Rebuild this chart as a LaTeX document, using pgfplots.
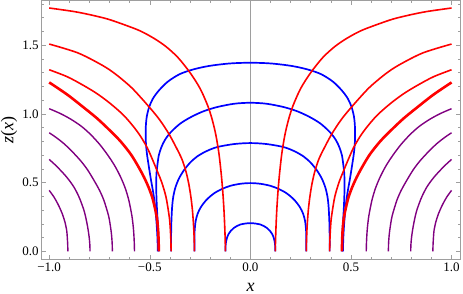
\documentclass[border=0pt]{standalone}
\usepackage{fontspec}
\setmainfont{Liberation Serif}
\usepackage{pgfplots}
\usepackage{pgfplotstable}
\pgfplotsset{compat=1.18}
\definecolor{mpurple}{rgb}{0.5,0,0.5}
\definecolor{framegray}{rgb}{0.62,0.62,0.62}

% red / purple curves: right half (x>0), mirrored for the left half
\pgfplotstableread{
x z
0.124 0
0.125 0.08
0.128 0.20
0.132 0.32
0.138 0.45
0.146 0.58
0.157 0.72
0.172 0.85
0.19 0.96
0.212 1.06
0.25 1.185
0.30 1.30
0.36 1.41
0.42 1.49
0.48 1.55
0.55 1.605
0.63 1.65
0.71 1.69
0.80 1.722
0.88 1.745
1.0 1.77
}\redA
\pgfplotstableread{
x z
0.278 0
0.279 0.08
0.282 0.18
0.288 0.30
0.296 0.40
0.306 0.49
0.32 0.58
0.34 0.67
0.37 0.76
0.405 0.855
0.45 0.955
0.50 1.045
0.59 1.19
0.68 1.30
0.75 1.365
0.86 1.445
1.0 1.508
}\redB
\pgfplotstableread{
x z
0.394 0
0.395 0.07
0.397 0.14
0.401 0.225
0.408 0.30
0.42 0.40
0.44 0.50
0.463 0.585
0.49 0.68
0.513 0.755
0.545 0.835
0.579 0.904
0.63 0.99
0.695 1.074
0.76 1.145
0.827 1.205
0.91 1.27
1.0 1.321
}\redC
\pgfplotstableread{
x z
0.455 0
0.456 0.07
0.458 0.14
0.463 0.225
0.472 0.30
0.488 0.395
0.507 0.47
0.529 0.541
0.56 0.625
0.596 0.71
0.645 0.80
0.695 0.875
0.76 0.965
0.827 1.045
0.91 1.14
1.0 1.229
}\redD
\pgfplotstableread{
x z
0.576 0
0.577 0.06
0.579 0.12
0.582 0.177
0.589 0.26
0.604 0.371
0.622 0.46
0.645 0.541
0.675 0.625
0.711 0.705
0.75 0.78
0.794 0.85
0.84 0.91
0.893 0.962
0.945 1.003
1.0 1.038
}\purA
\pgfplotstableread{
x z
0.686 0
0.687 0.06
0.69 0.12
0.695 0.177
0.705 0.26
0.728 0.371
0.75 0.445
0.777 0.516
0.81 0.595
0.844 0.66
0.885 0.725
0.926 0.783
0.965 0.828
1.0 0.863
}\purB
\pgfplotstableread{
x z
0.797 0
0.798 0.05
0.801 0.10
0.806 0.153
0.815 0.225
0.827 0.298
0.85 0.39
0.877 0.468
0.91 0.535
0.943 0.589
0.972 0.632
1.0 0.669
}\purC
\pgfplotstableread{
x z
0.907 0
0.908 0.05
0.91 0.10
0.913 0.153
0.922 0.215
0.935 0.274
0.955 0.34
0.976 0.395
1.0 0.444
}\purD
% blue caps: left end -> top -> right end
\pgfplotstableread{
x z
-0.124 0
-0.1235 0.035
-0.121 0.07
-0.116 0.10
-0.108 0.128
-0.097 0.15
-0.083 0.17
-0.068 0.184
-0.05 0.196
-0.03 0.202
0 0.206
0.03 0.202
0.05 0.196
0.068 0.184
0.083 0.17
0.097 0.15
0.108 0.128
0.116 0.10
0.121 0.07
0.1235 0.035
0.124 0
}\bluA
\pgfplotstableread{
x z
-0.278 0
-0.278 0.07
-0.277 0.15
-0.272 0.22
-0.262 0.275
-0.245 0.325
-0.222 0.369
-0.20 0.40
-0.175 0.428
-0.14 0.455
-0.10 0.477
-0.05 0.492
0 0.497
0.05 0.492
0.10 0.477
0.14 0.455
0.175 0.428
0.20 0.40
0.222 0.369
0.245 0.325
0.262 0.275
0.272 0.22
0.277 0.15
0.278 0.07
0.278 0
}\bluB
\pgfplotstableread{
x z
-0.394 0
-0.394 0.1
-0.393 0.2
-0.389 0.322
-0.383 0.40
-0.372 0.468
-0.355 0.53
-0.331 0.589
-0.30 0.645
-0.265 0.69
-0.22 0.728
-0.165 0.759
-0.08 0.781
0 0.788
0.08 0.781
0.165 0.759
0.22 0.728
0.265 0.69
0.30 0.645
0.331 0.589
0.355 0.53
0.372 0.468
0.383 0.40
0.389 0.322
0.393 0.2
0.394 0.1
0.394 0
}\bluC
\pgfplotstableread{
x z
-0.455 0
-0.457 0.1
-0.46 0.2
-0.464 0.30
-0.467 0.40
-0.468 0.49
-0.467 0.56
-0.462 0.63
-0.455 0.70
-0.442 0.759
-0.425 0.81
-0.397 0.865
-0.35 0.928
-0.298 0.975
-0.235 1.018
-0.165 1.05
-0.08 1.074
0 1.081
0.08 1.074
0.165 1.05
0.235 1.018
0.298 0.975
0.35 0.928
0.397 0.865
0.425 0.81
0.442 0.759
0.455 0.70
0.462 0.63
0.467 0.56
0.468 0.49
0.467 0.40
0.464 0.30
0.46 0.2
0.457 0.1
0.455 0
}\bluD
\pgfplotstableread{
x z
-0.46 0
-0.462 0.1
-0.466 0.2
-0.473 0.32
-0.482 0.42
-0.494 0.52
-0.505 0.62
-0.515 0.72
-0.52 0.81
-0.52 0.9
-0.515 0.98
-0.503 1.05
-0.485 1.11
-0.455 1.17
-0.41 1.235
-0.35 1.29
-0.28 1.325
-0.2 1.35
-0.1 1.367
0 1.372
0.1 1.367
0.2 1.35
0.28 1.325
0.35 1.29
0.41 1.235
0.455 1.17
0.485 1.11
0.503 1.05
0.515 0.98
0.52 0.9
0.52 0.81
0.515 0.72
0.505 0.62
0.494 0.52
0.482 0.42
0.473 0.32
0.466 0.2
0.462 0.1
0.46 0
}\bluE

\begin{document}
\begin{tikzpicture}
\begin{axis}[
  scale only axis, width=419pt, height=259.5pt,
  xmin=-1.04, xmax=1.042, ymin=-0.06, ymax=1.826,
  axis line style={framegray, line width=0.6pt},
  tick style={framegray, line width=0.5pt},
  tick align=inside,
  xtick={-1,-0.5,0,0.5,1}, xticklabels={−1.0,−0.5,0.0,0.5,1.0},
  ytick={0,0.5,1,1.5}, yticklabels={0.0,0.5,1.0,1.5},
  minor xtick={-1,-0.9,...,1.01},
  minor ytick={0,0.1,...,1.81},
  major tick length=4.5pt, minor tick length=2.5pt,
  xlabel={\textit{x}}, ylabel={\textit{z}(\textit{x})},
  tick label style={font=\fontsize{13}{14}\selectfont},
  label style={font=\fontsize{18}{19}\selectfont, inner sep=1pt},
  yticklabel style={xshift=1pt},
  xlabel style={at={(axis description cs:0.5,0)}, anchor=center, yshift=-27.5pt, inner sep=2.5pt},
  ylabel style={at={(axis description cs:0,0.5)}, anchor=center, yshift=32pt},
  extra x ticks={0}, extra x tick labels={},
  extra x tick style={grid=major, major grid style={framegray, line width=0.5pt}, major tick length=0pt},
  clip=true,
  rd/.style={color=red, line width=1.6pt, smooth},
  rdthick/.style={color=red, line width=2.6pt, smooth},
  pu/.style={color=mpurple, line width=1.4pt, smooth},
  bl/.style={color=blue, line width=1.7pt, smooth},
]
% blue caps
\addplot[bl] table[x=x, y=z] {\bluA};
\addplot[bl] table[x=x, y=z] {\bluB};
\addplot[bl] table[x=x, y=z] {\bluC};
\addplot[bl] table[x=x, y=z] {\bluD};
\addplot[bl] table[x=x, y=z] {\bluE};
% red curves
\addplot[rd] table[x=x, y=z] {\redA};
\addplot[rd] table[x expr=-\thisrow{x}, y=z] {\redA};
\addplot[rd] table[x=x, y=z] {\redB};
\addplot[rd] table[x expr=-\thisrow{x}, y=z] {\redB};
\addplot[rd] table[x=x, y=z] {\redC};
\addplot[rd] table[x expr=-\thisrow{x}, y=z] {\redC};
\addplot[rdthick] table[x=x, y=z] {\redD};
\addplot[rdthick] table[x expr=-\thisrow{x}, y=z] {\redD};
% purple curves
\addplot[pu] table[x=x, y=z] {\purA};
\addplot[pu] table[x expr=-\thisrow{x}, y=z] {\purA};
\addplot[pu] table[x=x, y=z] {\purB};
\addplot[pu] table[x expr=-\thisrow{x}, y=z] {\purB};
\addplot[pu] table[x=x, y=z] {\purC};
\addplot[pu] table[x expr=-\thisrow{x}, y=z] {\purC};
\addplot[pu] table[x=x, y=z] {\purD};
\addplot[pu] table[x expr=-\thisrow{x}, y=z] {\purD};
\end{axis}
\end{tikzpicture}
\end{document}
